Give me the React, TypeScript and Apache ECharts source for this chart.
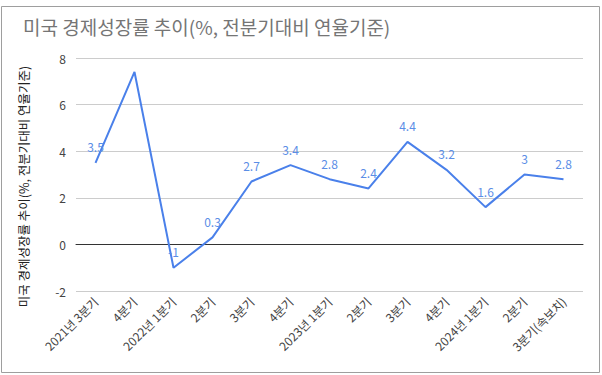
import React, { useEffect, useRef } from "react";
import * as echarts from "echarts";

const categories = [
  "2021년 3분기", "4분기", "2022년 1분기", "2분기", "3분기", "4분기",
  "2023년 1분기", "2분기", "3분기", "4분기", "2024년 1분기", "2분기", "3분기(속보치)",
];
const values = [3.5, 7.4, -1, 0.3, 2.7, 3.4, 2.8, 2.4, 4.4, 3.2, 1.6, 3, 2.8];
const hiddenLabelIndex = [1];
const title = "미국 경제성장률 추이(%, 전분기대비 연율기준)";
const yAxisName = "미국 경제성장률 추이(%, 전분기대비 연율기준)";

const FONT = "'Noto Sans CJK KR', 'Noto Sans', sans-serif";

export default function App() {
  const ref = useRef<HTMLDivElement>(null);
  useEffect(() => {
    document.body.style.margin = "0";
    const chart = echarts.init(ref.current!, null, { renderer: "svg" });
    chart.setOption({
      animation: false,
      backgroundColor: "#fff",
      title: {
        text: title,
        left: 18,
        top: 12,
        textStyle: { fontFamily: FONT, fontSize: 19, fontWeight: "normal", color: "#757575" },
      },
      graphic: [
        {
          type: "rect",
          shape: { x: 1.5, y: 6.5, width: 598, height: 366 },
          style: { fill: "none", stroke: "#9e9e9e", lineWidth: 1 },
          silent: true,
        },
      ],
      grid: { left: 76, right: 19, top: 58, bottom: 84 },
      xAxis: {
        type: "category",
        data: categories,
        boundaryGap: true,
        axisLine: { show: true, onZero: true, lineStyle: { color: "#333", width: 1 } },
        axisTick: { show: false },
        axisLabel: {
          rotate: 45,
          interval: 0,
          fontFamily: FONT,
          fontSize: 12,
          color: "#444",
          margin: 8,
        },
      },
      yAxis: {
        type: "value",
        min: -2,
        max: 8,
        interval: 2,
        name: yAxisName,
        nameLocation: "middle",
        nameGap: 46,
        nameTextStyle: { fontFamily: FONT, fontSize: 12.5, color: "#222", padding: [0, 24, 0, 0] },
        axisLine: { show: false },
        axisTick: { show: false },
        axisLabel: { fontFamily: FONT, fontSize: 12, color: "#444", margin: 10 },
        splitLine: { lineStyle: { color: "#cccccc", width: 1 } },
      },
      series: [
        {
          type: "line",
          data: values.map((v, i) =>
            hiddenLabelIndex.includes(i) ? { value: v, label: { show: false } } : v
          ),
          showSymbol: true,
          symbol: "circle",
          symbolSize: 0,
          lineStyle: { color: "#4a80ea", width: 2 },
          itemStyle: { color: "#4a80ea" },
          label: {
            show: true,
            position: "top",
            distance: 10,
            fontFamily: FONT,
            fontSize: 12,
            color: "#5b8ee6",
          },
        },
      ],
    });
    return () => chart.dispose();
  }, []);
  return <div ref={ref} style={{ position: "absolute", left: 0, top: 0, width: 602, height: 375 }} />;
}
